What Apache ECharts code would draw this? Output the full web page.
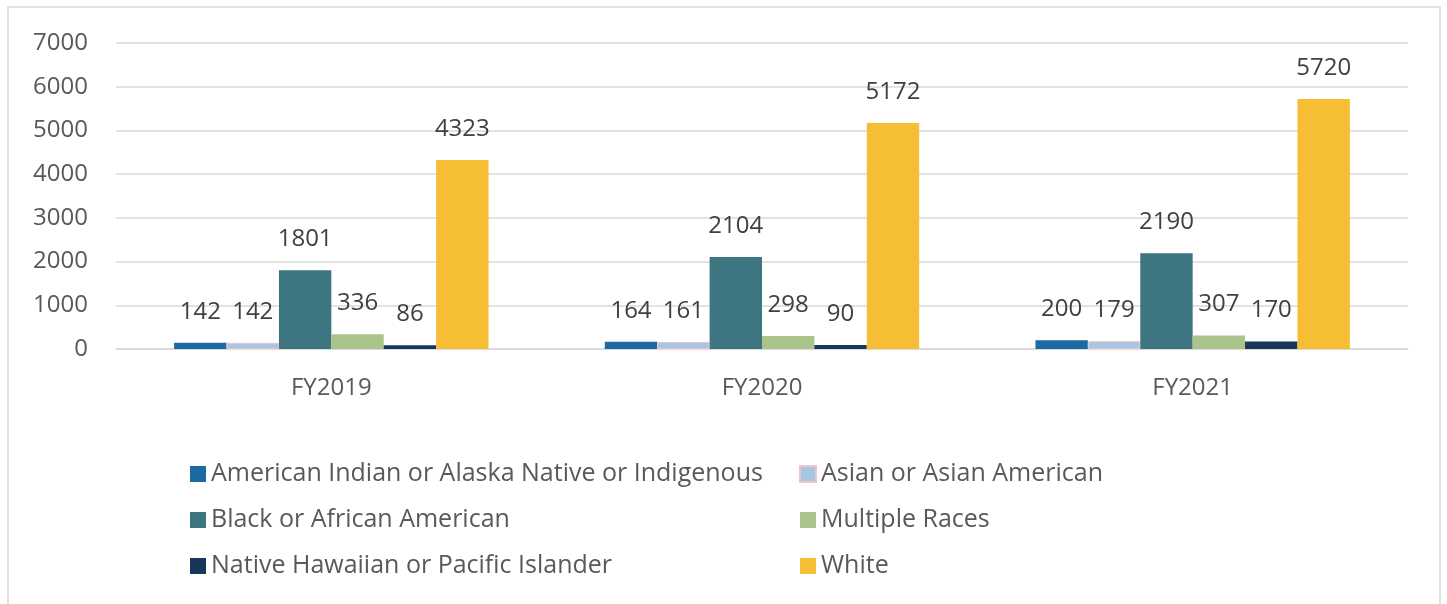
<!DOCTYPE html>
<html>
<head>
<meta charset="utf-8">
<script src="https://cdn.jsdelivr.net/npm/echarts@6/dist/echarts.min.js"></script>
<style>
  html, body { margin: 0; padding: 0; background: #fff; }
  #chart-container { width: 1447px; height: 604px; }
</style>
</head>
<body>
<div id="chart-container"></div>
<script>
const years = ['FY2019', 'FY2020', 'FY2021'];
const groups = [
  'American Indian or Alaska Native or Indigenous',
  'Asian or Asian American',
  'Black or African American',
  'Multiple Races',
  'Native Hawaiian or Pacific Islander',
  'White'
];
const americanIndian = [142, 164, 200];
const asian = [142, 161, 179];
const black = [1801, 2104, 2190];
const multiple = [336, 298, 307];
const nativeHawaiian = [86, 90, 170];
const white = [4323, 5172, 5720];
const yTicks = [0, 7000, 1000];

const valores = [americanIndian, asian, black, multiple, nativeHawaiian, white];
const colores = ['#1b6aa1', '#a9c5e4', '#3d7680', '#abc48b', '#16365a', '#f5be35'];
const fuente = 'Open Sans';

let myChart = echarts.init(document.getElementById('chart-container'), null, {
  renderer: 'canvas'
});

const series = groups.map((nombre, i) => ({
  name: nombre,
  type: 'bar',
  data: valores[i],
  barGap: 0,
  barCategoryGap: '27%',
  itemStyle: {
    color: colores[i],
    borderColor: i === 1 ? '#ecc6cc' : colores[i],
    borderWidth: i === 1 ? 1 : 0
  },
  label: {
    show: true,
    position: 'top',
    distance: 19,
    fontFamily: fuente,
    fontSize: 24,
    lineHeight: 24,
    color: '#404040'
  }
}));

const legendBase = {
  orient: 'vertical',
  icon: 'rect',
  itemWidth: 16,
  itemHeight: 16,
  itemGap: 20,
  top: 456,
  textStyle: { fontFamily: fuente, fontSize: 25, lineHeight: 26, color: '#595959' }
};

const opciones = {
  animation: false,
  color: colores,
  graphic: [{
    type: 'rect',
    shape: { x: 8, y: 7, width: 1432, height: 620 },
    style: { fill: 'none', stroke: '#d9d9d9', lineWidth: 1.5 },
    silent: true
  }],
  grid: { left: 116, right: 39, top: 43, bottom: 255 },
  legend: [
    Object.assign({}, legendBase, { left: 185, data: [groups[0], groups[2], groups[4]] }),
    Object.assign({}, legendBase, { left: 794, data: [groups[1], groups[3], groups[5]] })
  ],
  xAxis: {
    type: 'category',
    data: years,
    axisLine: { lineStyle: { color: '#d9d9d9', width: 1.5 } },
    axisTick: { show: false },
    axisLabel: { fontFamily: fuente, fontSize: 24, color: '#595959', margin: 27 }
  },
  yAxis: {
    type: 'value',
    min: yTicks[0],
    max: yTicks[1],
    interval: yTicks[2],
    axisLine: { show: false },
    axisTick: { show: false },
    splitLine: { lineStyle: { color: '#d9d9d9', width: 1.5 } },
    axisLabel: {
      fontFamily: fuente, fontSize: 24, color: '#595959', margin: 28,
      formatter: (v) => String(v)
    }
  },
  series: series
};

myChart.setOption(opciones);
</script>
</body>
</html>
